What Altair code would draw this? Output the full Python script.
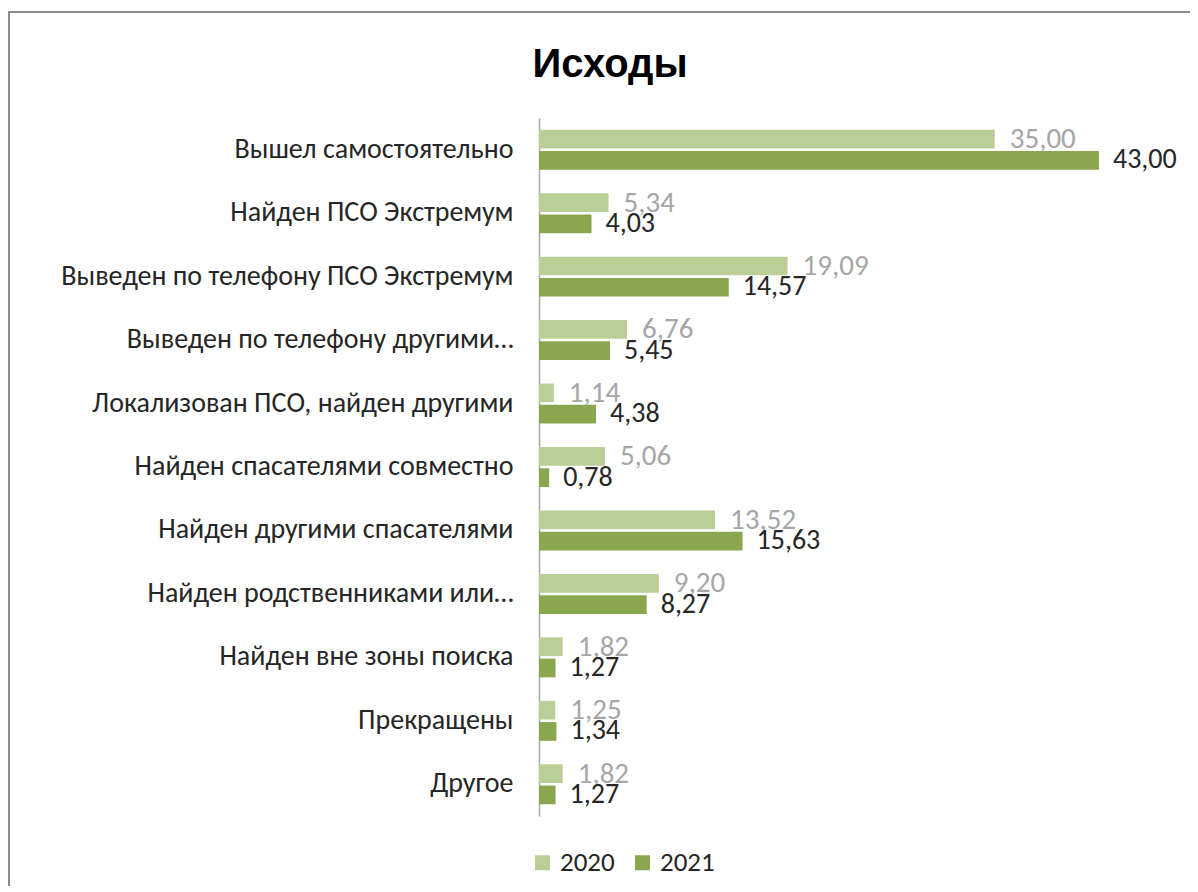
import altair as alt
import pandas as pd

categories = [
    "Вышел самостоятельно",
    "Найден ПСО Экстремум",
    "Выведен по телефону ПСО Экстремум",
    "Выведен по телефону другими…",
    "Локализован ПСО, найден другими",
    "Найден спасателями совместно",
    "Найден другими спасателями",
    "Найден родственниками или…",
    "Найден вне зоны поиска",
    "Прекращены",
    "Другое",
]
values_2020 = [35.00, 5.34, 19.09, 6.76, 1.14, 5.06, 13.52, 9.20, 1.82, 1.25, 1.82]
values_2021 = [43.00, 4.03, 14.57, 5.45, 4.38, 0.78, 15.63, 8.27, 1.27, 1.34, 1.27]
years = ["2020", "2021"]
title_text = "Исходы"

rows = []
for c, a, b in zip(categories, values_2020, values_2021):
    rows.append({"cat": c, "year": "2020", "value": a})
    rows.append({"cat": c, "year": "2021", "value": b})
df = pd.DataFrame(rows)
df["label"] = df["value"].map(lambda v: f"{v:.2f}".replace(".", ","))

FONT = "Calibri, Carlito, 'Liberation Sans', Arial, sans-serif"
TITLE_FONT = "'Liberation Sans', Arial, sans-serif"
LIGHT = "#bacf97"
DARK = "#8aa64f"

y_enc = alt.Y("cat:N", sort=categories, title=None,
              scale=alt.Scale(paddingInner=0.37, paddingOuter=0.185),
              axis=alt.Axis(ticks=False, labelFontSize=28, labelFont=FONT,
                            labelColor="#262626", labelPadding=26,
                            domainColor="#a6a6a6", domainWidth=1.5,
                            labelLimit=520))
yoff = alt.YOffset("year:N", sort=years, scale=alt.Scale(paddingInner=0.12))
x_enc = alt.X("value:Q", title=None, scale=alt.Scale(domain=[0, 45], nice=False),
              axis=None)

base = alt.Chart(df)

bars = base.mark_bar().encode(
    y=y_enc, yOffset=yoff, x=x_enc,
    color=alt.Color("year:N", sort=years,
                    scale=alt.Scale(domain=years, range=[LIGHT, DARK]),
                    legend=alt.Legend(title=None, orient="none", direction="horizontal",
                                      legendX=-10, legendY=731, padding=0,
                                      symbolType="square", symbolSize=225,
                                      symbolStrokeWidth=0, labelOffset=4,
                                      labelFontSize=27, labelFont=FONT,
                                      labelColor="#262626", columnPadding=14)),
)

text2020 = base.transform_filter(alt.datum.year == "2020").mark_text(
    align="left", baseline="middle", dx=15, fontSize=29, font=FONT, color="#a6a6a6"
).encode(y=alt.Y("cat:N", sort=categories), yOffset=yoff, x="value:Q", text="label:N")

text2021 = base.transform_filter(alt.datum.year == "2021").mark_text(
    align="left", baseline="middle", dx=14, fontSize=28, font=FONT, color="#262626"
).encode(y=alt.Y("cat:N", sort=categories), yOffset=yoff, x="value:Q", text="label:N")

one = pd.DataFrame({"t": [title_text]})
title_mark = alt.Chart(one).mark_text(
    font=TITLE_FONT, fontSize=40, fontWeight="bold", color="#000000",
    align="center", baseline="alphabetic"
).encode(x=alt.value(71), y=alt.value(-41), text="t:N")

border_top = alt.Chart(one).mark_rule(color="#8c8c8c", strokeWidth=2).encode(
    x=alt.value(-531), x2=alt.value(700), y=alt.value(-106))
border_left = alt.Chart(one).mark_rule(color="#8c8c8c", strokeWidth=2).encode(
    x=alt.value(-530), y=alt.value(-106), y2=alt.value(800))

chart = alt.layer(border_top, border_left, title_mark, bars, text2020, text2021).properties(
    width=586, height=698,
    padding={"left": 531, "top": 110, "right": 65, "bottom": 70},
    autosize=alt.AutoSizeParams(type="none"),
).configure_view(stroke=None)

chart.save("out.html", embed_options={"renderer": "svg", "actions": False})
